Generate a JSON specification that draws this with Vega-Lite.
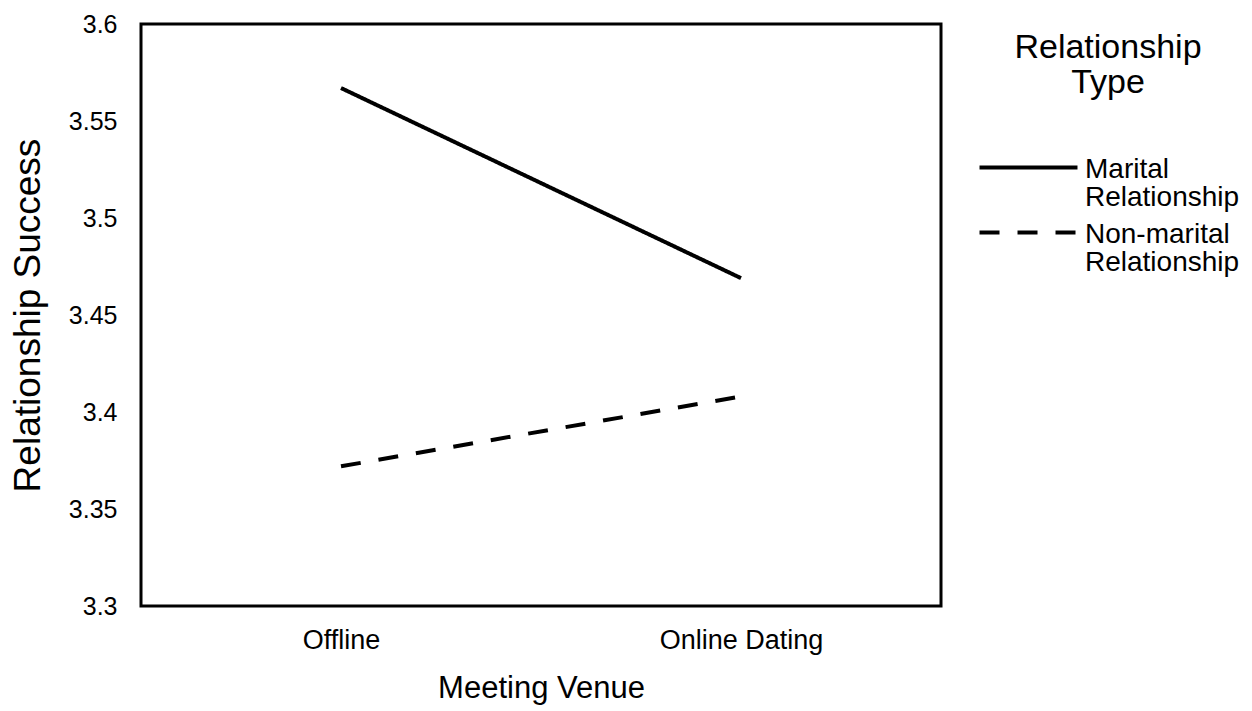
{
  "$schema": "https://vega.github.io/schema/vega-lite/v6.json",
  "width": 800,
  "height": 582,
  "autosize": "none",
  "padding": {"left": 141, "top": 24, "right": 311, "bottom": 105},
  "background": "white",
  "config": {
    "font": "Liberation Sans",
    "view": {"stroke": "black", "strokeWidth": 3}
  },
  "data": {
    "values": [
      {"venue": "Offline", "type": "Marital Relationship", "success": 3.567},
      {"venue": "Online Dating", "type": "Marital Relationship", "success": 3.469},
      {"venue": "Offline", "type": "Non-marital Relationship", "success": 3.372},
      {"venue": "Online Dating", "type": "Non-marital Relationship", "success": 3.408}
    ]
  },
  "mark": {"type": "line", "strokeWidth": 4, "color": "black", "strokeCap": "butt"},
  "encoding": {
    "x": {
      "field": "venue",
      "type": "nominal",
      "sort": ["Offline", "Online Dating"],
      "scale": {"type": "point", "padding": 0.5},
      "axis": {
        "title": "Meeting Venue",
        "labelAngle": 0,
        "domain": false,
        "ticks": false,
        "labelFontSize": 27,
        "labelPadding": 21,
        "labelColor": "black",
        "titleFontSize": 31,
        "titleFontWeight": "normal",
        "titleColor": "black",
        "titlePadding": 20
      }
    },
    "y": {
      "field": "success",
      "type": "quantitative",
      "scale": {"domain": [3.3, 3.6], "zero": false},
      "axis": {
        "values": [3.3, 3.35, 3.4, 3.45, 3.5, 3.55, 3.6],
        "format": ".2~f",
        "grid": false,
        "domain": false,
        "ticks": false,
        "labelPadding": 24,
        "labelFontSize": 25,
        "labelColor": "black",
        "title": "Relationship Success",
        "titleFontSize": 37,
        "titleFontWeight": "normal",
        "titleColor": "black",
        "titlePadding": 21
      }
    },
    "strokeDash": {
      "field": "type",
      "type": "nominal",
      "scale": {
        "domain": ["Marital Relationship", "Non-marital Relationship"],
        "range": [[1, 0], [20, 18]]
      },
      "legend": {
        "orient": "none",
        "legendX": 873,
        "legendY": 7,
        "title": ["Relationship", "Type"],
        "titleFontSize": 34,
        "titleFontWeight": "normal",
        "titleColor": "black",
        "titleLineHeight": 35,
        "titleLimit": 0,
        "titleAnchor": "middle",
        "titleAlign": "center",
        "titlePadding": 53,
        "symbolType": "M-4,0H4",
        "symbolSize": 600,
        "symbolStrokeWidth": 4,
        "symbolStrokeColor": "black",
        "labelFontSize": 28,
        "labelColor": "black",
        "labelOffset": 42,
        "labelLimit": 0,
        "labelBaseline": "alphabetic",
        "labelExpr": "split(datum.label, ' ')",
        "rowPadding": 6,
        "encode": {
          "title": {"update": {"dx": {"value": -19}}},
          "labels": {"update": {"dy": {"value": 10}, "lineHeight": {"value": 28}}}
        }
      }
    }
  }
}
